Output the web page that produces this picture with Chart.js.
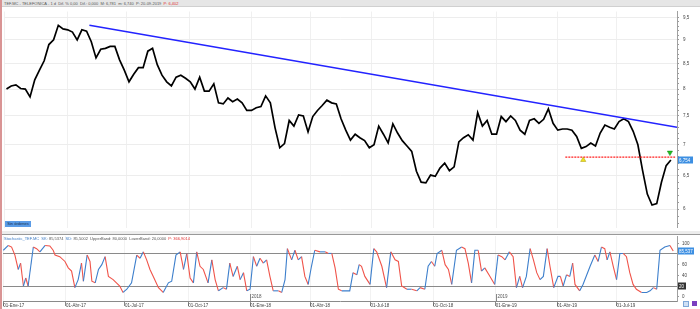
<!DOCTYPE html>
<html>
<head>
<meta charset="utf-8">
<script src="https://cdn.jsdelivr.net/npm/chart.js@4.4.0/dist/chart.umd.min.js"></script>
<style>
  html, body { margin: 0; padding: 0; background: #fff; }
  body { width: 700px; height: 309px; position: relative; overflow: hidden; font-family: "Liberation Sans", Arial, sans-serif; }
  .box { position: absolute; left: 0; width: 700px; }
  #priceBox { top: 7px; height: 225px; }
  #stochBox { top: 236px; height: 73px; }
  #edge { position: absolute; left: 0; top: 0; width: 2px; height: 309px; background: #d99494; }
  #topbar { position: absolute; left: 2px; top: 0; width: 698px; height: 6px; background: #e6e6e6; border-bottom: 1px solid #d0d0d0; }
  #sep { position: absolute; left: 2px; top: 231px; width: 698px; height: 3px; background: #ececec; border-bottom: 1px solid #999; }
  .hdr { position: absolute; font-size: 4px; line-height: 5px; white-space: nowrap; color: #555; }
  .b { color: #3f7cc4; }
  .r { color: #e03030; }
  #orders { position: absolute; left: 5px; top: 221px; width: 26px; height: 6px; background: #5a9be6; color: #15304f; font-size: 4px; line-height: 6px; text-align: center; }
  .icon { position: absolute; top: 301px; width: 6px; height: 6px; }
</style>
</head>
<body>
<div class="box" id="priceBox"><canvas id="priceChart"></canvas></div>
<div class="box" id="stochBox"><canvas id="stochChart"></canvas></div>
<div id="edge"></div>
<div id="topbar"></div>
<div id="sep"></div>
<div class="hdr" style="left:4px;top:1px">TEF.MC - TELEFONICA - 1 d &nbsp;Dif. % 0,00 &nbsp;Dif.: 0,000 &nbsp;M: 6,781 &nbsp;m: 6,740 &nbsp;P: 20-09-2019 &nbsp;<span class="r">P: 6,402</span></div>
<div class="hdr" style="left:4px;top:236px"><span class="b">Stochastic_TEF.MC</span> &nbsp;<span class="b">SK:</span> 85,5374 &nbsp;<span class="b">SD:</span> 85,5002 &nbsp;UpperBand: 80,0000 &nbsp;LowerBand: 20,0000 &nbsp;<span class="r">P: 366,9014</span></div>
<div id="orders">Sin órdenes</div>
<div class="icon" style="left:683px;background:#cfe0f5;border:1px solid #7fa7d8;width:4px;height:4px"></div>
<div class="icon" style="left:692px;background:#7a3fc0;width:5px;height:5px"></div>
<script>
// weekly closes, week 0 = first week of Jan 2017
const priceClose = [
  8.00, 8.06, 8.08, 8.01, 8.00, 7.85, 8.18, 8.37, 8.56, 8.90,
  9.00, 9.32, 9.24, 9.22, 9.17, 9.00, 9.22, 9.19, 8.96, 8.62,
  8.80, 8.82, 8.86, 8.86, 8.58, 8.37, 8.14, 8.29, 8.42, 8.42,
  8.76, 8.82, 8.48, 8.27, 8.14, 8.06, 8.23, 8.27, 8.21, 8.14,
  8.00, 8.23, 7.96, 7.96, 8.10, 7.74, 7.72, 7.83, 7.76, 7.81,
  7.74, 7.60, 7.60, 7.65, 7.67, 7.87, 7.74, 7.29, 6.95, 7.02,
  7.42, 7.32, 7.52, 7.50, 7.22, 7.49, 7.60, 7.69, 7.79, 7.74,
  7.72, 7.45, 7.25, 7.08, 7.18, 7.12, 7.07, 6.95, 7.00, 7.32,
  7.18, 7.03, 7.36, 7.20, 7.07, 6.98, 6.89, 6.57, 6.40, 6.39,
  6.51, 6.49, 6.62, 6.70, 6.58, 6.64, 7.05, 7.12, 7.17, 7.08,
  7.56, 7.32, 7.42, 7.18, 7.18, 7.49, 7.40, 7.50, 7.42, 7.25,
  7.18, 7.42, 7.45, 7.37, 7.44, 7.63, 7.37, 7.25, 7.27, 7.27,
  7.25, 7.14, 6.94, 6.97, 7.03, 6.98, 7.20, 7.34, 7.30, 7.27,
  7.40, 7.45, 7.40, 7.23, 7.00, 6.58, 6.22, 6.06, 6.08, 6.40,
  6.66, 6.75
];
const lastPrice = 6.754;

// bearish trend line and support
const trendWeeks = [17.6, 142.3];
const trendPrices = [9.32, 7.30];
const supportWeeks = [118.6, 141.9];
const supportLevel = 6.795;
const buySignal = { week: 122.4, price: 6.75 };
const sellSignal = { week: 140.8, price: 6.87 };

// stochastic oscillator
const stochWeeks = [
  -0.35, 0.7, 1.4, 2.1, 2.8, 3.3, 3.9, 4.4, 4.9, 6.0, 6.7, 7.4, 8.5, 9.5, 10.2, 10.6, 11.6, 12.7, 13.4, 14.1,
  14.8, 15.5, 16.2, 16.6, 17.4, 18.0, 18.4, 19.1, 19.8, 20.5, 21.2, 21.9, 22.9, 23.6, 24.3, 25.0, 25.8, 26.8, 27.9, 28.6,
  29.3, 30.0, 30.7, 31.4, 32.5, 33.5, 34.6, 35.3, 36.2, 37.1, 37.8, 38.5, 39.2, 39.9, 40.6, 41.3, 42.0, 43.0, 43.8, 44.5,
  45.2, 46.2, 46.9, 47.6, 48.3, 49.2, 49.8, 50.5, 51.2, 51.9, 52.6, 53.3, 54.0, 54.7, 55.4, 56.1, 56.8, 57.9, 58.6, 59.3,
  59.8, 60.7, 61.4, 62.1, 62.8, 63.5, 64.2, 64.9, 65.6, 66.7, 67.8, 68.5, 69.2, 69.9, 70.6, 71.3, 72.3, 73.0, 73.7, 74.5,
  75.0, 75.5, 76.2, 77.3, 78.1, 78.7, 79.8, 80.8, 81.7, 82.6, 83.3, 84.0, 85.1, 86.1, 87.2, 87.9, 88.9, 89.6, 90.3, 91.0,
  91.5, 92.5, 93.2, 93.9, 94.6, 95.6, 96.7, 97.4, 98.1, 98.8, 99.5, 100.2, 100.9, 101.6, 102.7, 103.7, 104.4, 105.2, 105.9, 106.8,
  107.6, 108.3, 109.0, 109.6, 110.4, 111.2, 111.9, 112.6, 113.3, 114.0, 114.8, 115.4, 116.2, 117.1, 117.6, 118.2, 118.9, 119.6, 120.2, 120.7,
  121.7, 122.4, 123.2, 123.9, 124.9, 125.6, 126.3, 127.0, 127.5, 128.1, 128.8, 129.5, 130.2, 130.9, 131.6, 132.3, 133.0, 133.7, 134.8, 135.9,
  136.6, 137.3, 138.0, 138.7, 139.7, 140.8, 141.5
];
const stochK = [
  87, 96, 93, 78, 51, 63, 20, 35, 20, 93, 90, 84, 96, 95, 87, 78, 75, 66, 54, 48,
  17, 32, 63, 29, 78, 66, 29, 26, 51, 60, 75, 38, 32, 26, 20, 8, 14, 26, 78, 72,
  84, 69, 51, 38, 17, 8, 26, 29, 78, 84, 51, 81, 35, 26, 84, 57, 51, 26, 69, 32,
  11, 17, 14, 63, 38, 57, 32, 45, 11, 14, 75, 57, 72, 63, 69, 38, 11, 11, 8, 32,
  90, 69, 87, 69, 75, 38, 23, 57, 87, 84, 84, 81, 81, 54, 14, 11, 11, 11, 45, 41,
  60, 57, 38, 23, 90, 84, 57, 17, 84, 69, 66, 20, 14, 14, 11, 17, 14, 57, 66, 57,
  81, 87, 60, 51, 23, 87, 93, 90, 63, 26, 87, 87, 48, 54, 38, 23, 78, 75, 69, 84,
  75, 17, 38, 17, 38, 90, 69, 45, 32, 38, 90, 57, 17, 38, 38, 20, 41, 38, 63, 23,
  11, 23, 41, 57, 78, 66, 93, 90, 69, 84, 57, 32, 81, 81, 75, 45, 23, 14, 8, 8,
  11, 17, 14, 87, 93, 96, 85.5
];
const stochLast = 85.537;
const bandLevels = [20, 80];

// axes
const quarterWeeks = [-0.36, 12.9, 25.4, 38.8, 51.9, 64.6, 77.4, 90.7, 103.9, 116.9, 129.5];
const quarterLabels = ['01-Ene-17', '01-Abr-17', '01-Jul-17', '01-Oct-17', '01-Ene-18', '01-Abr-18',
  '01-Jul-18', '01-Oct-18', '01-Ene-19', '01-Abr-19', '01-Jul-19'];
const yearWeeks = [51.9, 103.9];
const yearLabels = ['2018', '2019'];
const priceTicks = [6, 6.5, 7, 7.5, 8, 8.5, 9, 9.5];
const stochTicks = [0, 20, 40, 60, 80, 100];

const xMin = -0.42, xMax = 142.3;
const FONT = '"Liberation Sans", Arial, sans-serif';
Chart.defaults.font.family = FONT;
Chart.defaults.font.size = 4.5;

// keep the plot area exactly where the layout puts it
const noPad = s => { s.paddingTop = 0; s.paddingBottom = 0; s.paddingLeft = 0; s.paddingRight = 0; };

// boxes on the right axis (last value, band)
const axisBoxes = {
  id: 'axisBoxes',
  afterDraw(chart, args, opts) {
    const ctx = chart.ctx;
    const ys = chart.scales.y;
    (opts.items || []).forEach(it => {
      const y = Math.round(ys.getPixelForValue(it.value));
      ctx.save();
      ctx.fillStyle = it.bg;
      ctx.fillRect(ys.left + 1, y - 3.5, it.w, 7);
      ctx.fillStyle = it.fg;
      ctx.font = '4.5px ' + FONT;
      ctx.textBaseline = 'middle';
      ctx.fillText(it.text, ys.left + 2, y + 0.3);
      ctx.restore();
    });
  }
};

const yearMarks = {
  id: 'yearMarks',
  afterDatasetsDraw(chart) {
    const { ctx, chartArea, scales: { x } } = chart;
    ctx.save();
    ctx.strokeStyle = '#888';
    ctx.lineWidth = 1;
    ctx.fillStyle = '#555';
    ctx.font = '4.5px ' + FONT;
    ctx.textBaseline = 'alphabetic';
    yearWeeks.forEach((w, i) => {
      const px = Math.round(x.getPixelForValue(w)) + 0.5;
      ctx.beginPath();
      ctx.moveTo(px, chartArea.bottom);
      ctx.lineTo(px, chartArea.bottom - 7);
      ctx.stroke();
      ctx.fillText(yearLabels[i], px + 1, chartArea.bottom - 3);
    });
    ctx.restore();
  }
};

const priceAllTicks = [];
for (let v = 58; v <= 95; v++) priceAllTicks.push(v / 10);

new Chart(document.getElementById('priceChart'), {
  type: 'line',
  data: {
    datasets: [
      {
        label: 'TEF.MC',
        data: priceClose.map((p, i) => ({ x: i, y: p })),
        borderColor: '#000',
        borderWidth: 1.7,
        pointRadius: 0,
        tension: 0,
        order: 3
      },
      {
        label: 'Tendencia',
        data: trendWeeks.map((w, i) => ({ x: w, y: trendPrices[i] })),
        borderColor: '#2323ff',
        borderWidth: 1.5,
        pointRadius: 0,
        order: 2
      },
      {
        label: 'Soporte',
        data: supportWeeks.map(w => ({ x: w, y: supportLevel })),
        borderColor: '#ff1f1f',
        borderWidth: 1.2,
        borderDash: [2, 1],
        pointRadius: 0,
        order: 1
      },
      {
        label: 'Compra',
        data: [{ x: buySignal.week, y: buySignal.price }],
        showLine: false,
        pointStyle: 'triangle',
        pointRadius: 3,
        backgroundColor: '#f0e020',
        borderColor: '#a89a00',
        borderWidth: 0.5,
        order: 0
      },
      {
        label: 'Venta',
        data: [{ x: sellSignal.week, y: sellSignal.price }],
        showLine: false,
        pointStyle: 'triangle',
        rotation: 180,
        pointRadius: 3,
        backgroundColor: '#22c022',
        borderColor: '#0f800f',
        borderWidth: 0.5,
        order: 0
      }
    ]
  },
  options: {
    responsive: true,
    maintainAspectRatio: false,
    animation: false,
    layout: { padding: { left: 3, top: 0, right: 0, bottom: 1 } },
    plugins: {
      legend: { display: false },
      tooltip: { enabled: false },
      axisBoxes: { items: [{ value: lastPrice, text: '6,754', bg: '#3d8fe2', fg: '#fff', w: 15 }] }
    },
    scales: {
      x: {
        type: 'linear',
        min: xMin,
        max: xMax,
        afterBuildTicks: s => { s.ticks = quarterWeeks.map(v => ({ value: v })); },
        ticks: { display: false },
        grid: { color: '#f0f0f0', drawTicks: false },
        border: { display: false },
        afterFit: s => { s.height = 0; noPad(s); }
      },
      y: {
        type: 'logarithmic',
        position: 'right',
        min: 5.742,
        max: 9.633,
        afterBuildTicks: s => { s.ticks = priceAllTicks.map(v => ({ value: v })); },
        ticks: {
          autoSkip: false,
          color: '#444',
          padding: 4,
          callback: v => priceTicks.includes(v) ? String(v).replace('.', ',') : ''
        },
        grid: {
          color: ctx => priceTicks.includes(ctx.tick && ctx.tick.value) ? '#ededed' : 'rgba(0,0,0,0)',
          tickColor: '#9a9a9a',
          tickLength: 2
        },
        border: { color: '#a0a0a0' },
        afterFit: s => { s.width = 23; noPad(s); }
      }
    }
  },
  plugins: [axisBoxes]
});

new Chart(document.getElementById('stochChart'), {
  type: 'line',
  data: {
    datasets: [{
      label: 'SK',
      data: stochWeeks.map((w, i) => ({ x: w, y: stochK[i] })),
      borderWidth: 1.1,
      pointRadius: 0,
      tension: 0,
      borderColor: '#3d7fcc',
      segment: {
        borderColor: ctx => ctx.p1.parsed.y >= ctx.p0.parsed.y ? '#3d7fcc' : '#f0544a'
      }
    }]
  },
  options: {
    responsive: true,
    maintainAspectRatio: false,
    animation: false,
    layout: { padding: { left: 3, top: 0, right: 0, bottom: 0 } },
    plugins: {
      legend: { display: false },
      tooltip: { enabled: false },
      axisBoxes: {
        items: [
          { value: bandLevels[0], text: '20', bg: '#333', fg: '#fff', w: 8 },
          { value: stochLast, text: '85,537', bg: '#3d8fe2', fg: '#fff', w: 16 }
        ]
      }
    },
    scales: {
      x: {
        type: 'linear',
        min: xMin,
        max: xMax,
        afterBuildTicks: s => { s.ticks = quarterWeeks.map(v => ({ value: v })); },
        ticks: {
          align: 'start',
          autoSkip: false,
          maxRotation: 0,
          color: '#444',
          padding: -3,
          callback: (v, i) => quarterLabels[i]
        },
        grid: { color: '#f2f2f2', tickColor: '#888', tickLength: 5 },
        border: { color: '#8a8a8a' },
        afterFit: s => { s.height = 8; noPad(s); }
      },
      y: {
        position: 'right',
        min: -8.05,
        max: 113.7,
        afterBuildTicks: s => { s.ticks = stochTicks.map(v => ({ value: v })); },
        ticks: {
          autoSkip: false,
          color: '#444',
          padding: 3,
          callback: v => bandLevels.includes(v) ? '' : String(v)
        },
        grid: {
          color: ctx => bandLevels.includes(ctx.tick && ctx.tick.value) ? '#8a8a8a' : 'rgba(0,0,0,0)',
          tickColor: '#9a9a9a',
          tickLength: 2
        },
        border: { color: '#a0a0a0' },
        afterFit: s => { s.width = 23; noPad(s); }
      }
    }
  },
  plugins: [axisBoxes, yearMarks]
});
</script>
</body>
</html>
